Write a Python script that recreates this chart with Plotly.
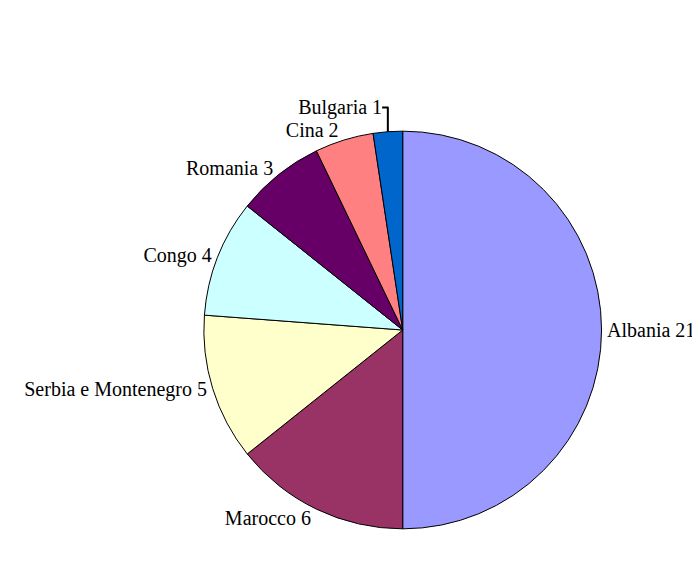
import plotly.graph_objects as go

countries = ["Albania", "Marocco", "Serbia e Montenegro", "Congo", "Romania", "Cina", "Bulgaria"]
counts = [21, 6, 5, 4, 3, 2, 1]
slice_colors = ["#9999FF", "#993366", "#FFFFCC", "#CCFFFF", "#660066", "#FF8080", "#0066CC"]

# page body has an 8px margin, so the figure is sized to fit the visible window
W, H = 692, 568

fig = go.Figure(go.Pie(
    labels=countries,
    values=counts,
    sort=False,
    direction="clockwise",
    rotation=0,
    marker=dict(colors=slice_colors, line=dict(color="black", width=1)),
    textposition="outside",
    texttemplate="%{label} %{value}",
    textfont=dict(family="Liberation Serif", size=20, color="black"),
    showlegend=False,
    domain=dict(x=[197 / W, 597 / W], y=[1 - 522 / H, 1 - 122 / H]),
    hoverinfo="label+value",
))

fig.update_layout(
    width=W, height=H,
    margin=dict(l=0, r=0, t=0, b=0),
    paper_bgcolor="white",
    plot_bgcolor="white",
)

fig.write_html("out.html")
